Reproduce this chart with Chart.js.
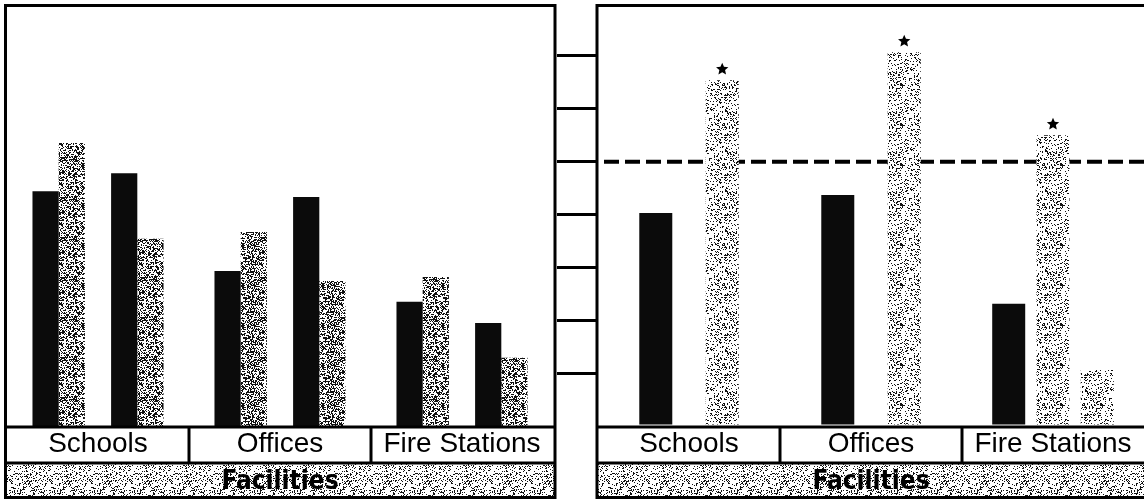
<!DOCTYPE html>
<html>
<head>
<meta charset="utf-8">
<script src="https://cdn.jsdelivr.net/npm/chart.js@4"></script>
<style>
  html, body { margin: 0; padding: 0; background: #fff; overflow: hidden; }
  #wrap { position: relative; width: 1144px; height: 500px; overflow: hidden; }
  #leftChart { position: absolute; left: 0; top: 0; }
  #rightChart { position: absolute; left: 557px; top: 0; }
</style>
</head>
<body>
<div id="wrap">
  <canvas id="leftChart" width="560" height="500"></canvas>
  <canvas id="rightChart" width="603" height="500"></canvas>
</div>
<script>
// data (units of the middle ruler)
const categories = ['Schools', 'Offices', 'Fire Stations'];
const axisTitle = 'Facilities';

const leftBlackA = [4.44, 2.93, 2.35];
const leftGrayA = [5.35, 3.67, 2.82];
const leftBlackB = [4.78, 4.33, 1.95];
const leftGrayB = [3.54, 2.74, 1.29];

const rightBlack = [4.03, 4.37, 2.31];
const rightGray = [6.54, 7.07, 5.50];
const rightExtra = [null, null, 1.06];

const referenceValue = 5;
const rulerMin = 0;
const rulerMax = 8;

// speckled fills like the printed screen tone
function speckle(density, seed) {
  const c = document.createElement('canvas');
  c.width = c.height = 40;
  const g = c.getContext('2d');
  g.fillStyle = '#fff';
  g.fillRect(0, 0, 40, 40);
  g.fillStyle = '#111';
  for (let y = 0; y < 40; y++) {
    for (let x = 0; x < 40; x++) {
      const h = Math.sin(x * 12.9898 + y * 78.233 + seed) * 43758.5453;
      if (h - Math.floor(h) < density) g.fillRect(x, y, 1, 1);
    }
  }
  return g.createPattern(c, 'repeat');
}

const darkTone = speckle(0.45, 1.7);
const lightTone = speckle(0.22, 5.3);
const bandTone = speckle(0.22, 9.1);
const black = '#0b0b0b';

const labelFont = { family: '"Liberation Sans", Arial, sans-serif', size: 28 };
const titleFont = { family: '"DejaVu Sans Condensed", "DejaVu Sans", sans-serif', size: 26, weight: 'bold' };

function hline(ctx, x1, x2, y) {
  ctx.beginPath(); ctx.moveTo(x1, y); ctx.lineTo(x2, y); ctx.stroke();
}
function vline(ctx, x, y1, y2) {
  ctx.beginPath(); ctx.moveTo(x, y1); ctx.lineTo(x, y2); ctx.stroke();
}

// frame, label cells and the stippled title band
const panelPlugin = {
  id: 'panel',
  beforeDraw(chart, args, opts) {
    const ctx = chart.ctx;
    ctx.save();
    ctx.fillStyle = bandTone;
    ctx.fillRect(opts.left, 464, opts.right - opts.left, 33);
    ctx.restore();
  },
  afterDraw(chart, args, opts) {
    const { ctx, scales: { x } } = chart;
    ctx.save();
    ctx.strokeStyle = '#000';
    ctx.lineWidth = 3;
    ctx.strokeRect(opts.left, 5.5, opts.right - opts.left, 492);
    hline(ctx, opts.left, opts.right, 427);
    hline(ctx, opts.left, opts.right, 463);
    for (let i = 1; i < categories.length; i++) {
      const bx = (x.getPixelForValue(i - 1) + x.getPixelForValue(i)) / 2;
      vline(ctx, bx, 427, 463);
    }
    ctx.restore();
  }
};

// dashed reference line (behind bars) and stars over the gray bars
const markPlugin = {
  id: 'marks',
  beforeDatasetsDraw(chart) {
    const { ctx, chartArea: a, scales: { y } } = chart;
    const yy = y.getPixelForValue(referenceValue);
    ctx.save();
    ctx.strokeStyle = '#000';
    ctx.lineWidth = 4;
    ctx.setLineDash([15, 6]);
    hline(ctx, a.left + 6, a.right + 10, yy);
    ctx.restore();
  },
  afterDatasetsDraw(chart) {
    const ctx = chart.ctx;
    const meta = chart.getDatasetMeta(1);
    ctx.save();
    ctx.fillStyle = '#000';
    meta.data.forEach(bar => {
      const cx = bar.x, cy = bar.y - 11;
      ctx.beginPath();
      for (let k = 0; k < 10; k++) {
        const r = k % 2 ? 3 : 6.5;
        const ang = -Math.PI / 2 + k * Math.PI / 5;
        ctx.lineTo(cx + r * Math.cos(ang), cy + r * Math.sin(ang));
      }
      ctx.closePath();
      ctx.fill();
    });
    ctx.restore();
  }
};

function xAxis() {
  return {
    grid: { display: false },
    border: { display: false },
    ticks: { color: '#000', font: labelFont, padding: -7, maxRotation: 0 },
    title: { display: true, text: axisTitle, color: '#000', font: titleFont, padding: { top: 0, bottom: 2 } },
    afterFit: s => { s.height = 74; }
  };
}

Chart.defaults.animation = false;

new Chart(document.getElementById('leftChart'), {
  type: 'bar',
  data: {
    labels: categories,
    datasets: [
      { data: leftBlackA, backgroundColor: black },
      { data: leftGrayA, backgroundColor: darkTone },
      { data: [null, null, null], backgroundColor: 'rgba(0,0,0,0)' },
      { data: leftBlackB, backgroundColor: black },
      { data: leftGrayB, backgroundColor: darkTone }
    ]
  },
  options: {
    responsive: false,
    layout: { padding: { left: 7, right: 7, top: 3, bottom: 0 } },
    datasets: { bar: { categoryPercentage: 0.72, barPercentage: 1 } },
    plugins: { legend: { display: false }, tooltip: { enabled: false }, panel: { left: 5.5, right: 555 } },
    scales: {
      x: xAxis(),
      y: { display: false, min: rulerMin, max: rulerMax }
    }
  },
  plugins: [panelPlugin]
});

new Chart(document.getElementById('rightChart'), {
  type: 'bar',
  data: {
    labels: categories,
    datasets: [
      { data: rightBlack, backgroundColor: black },
      { data: rightGray, backgroundColor: lightTone },
      { data: rightExtra, backgroundColor: lightTone }
    ]
  },
  options: {
    responsive: false,
    layout: { padding: { left: 0, right: 16, top: 3, bottom: 0 } },
    datasets: { bar: { categoryPercentage: 0.73, barPercentage: 0.75, maxBarThickness: 33, skipNull: true } },
    plugins: { legend: { display: false }, tooltip: { enabled: false }, panel: { left: 40, right: 589 } },
    scales: {
      x: xAxis(),
      y: {
        position: 'left',
        min: rulerMin,
        max: rulerMax,
        border: { display: false },
        ticks: { display: false, stepSize: 1 },
        grid: {
          drawOnChartArea: false,
          drawTicks: true,
          tickLength: 41,
          lineWidth: 3,
          color: c => (c.tick && c.tick.value > rulerMin && c.tick.value < rulerMax) ? '#000' : 'rgba(0,0,0,0)'
        },
        afterFit: s => { s.width = 41; }
      }
    }
  },
  plugins: [panelPlugin, markPlugin]
});
</script>
</body>
</html>
